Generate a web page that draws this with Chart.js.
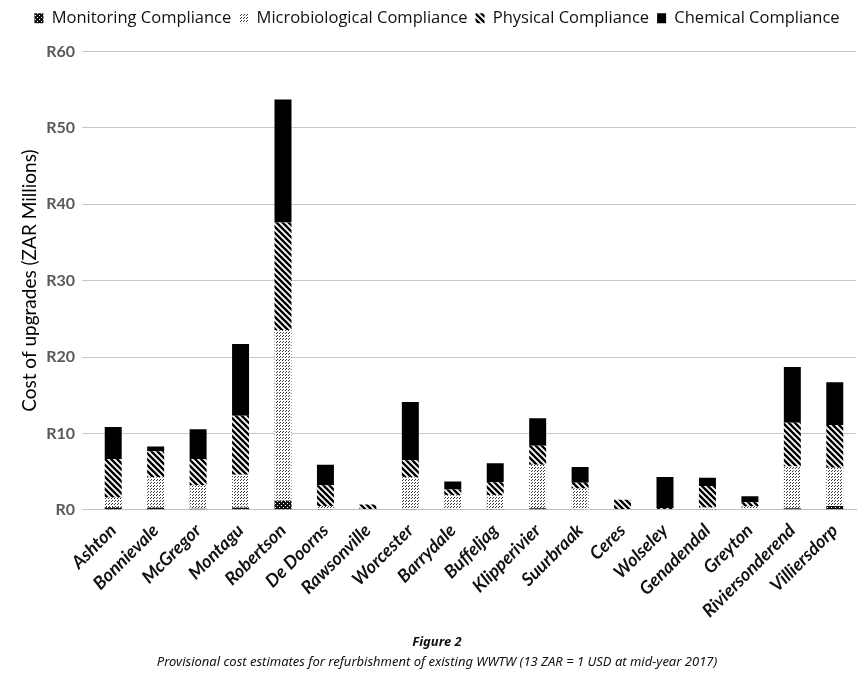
<!DOCTYPE html>
<html>
<head>
<meta charset="utf-8">
<script src="https://cdn.jsdelivr.net/npm/chart.js@4"></script>
<style>
  html, body { margin: 0; padding: 0; background: #fff; }
  #wrap { width: 868px; height: 682px; }
</style>
</head>
<body>
<div id="wrap"><canvas id="costChart"></canvas></div>
<script>
const plants = [
  "Ashton", "Bonnievale", "McGregor", "Montagu", "Robertson", "De Doorns",
  "Rawsonville", "Worcester", "Barrydale", "Buffeljag", "Klipperivier",
  "Suurbraak", "Ceres", "Wolseley", "Genadendal", "Greyton",
  "Riviersonderend", "Villiersdorp",
];

// R millions per compliance category
const monitoring = [0.35, 0.3, 0.15, 0.3, 1.2, 0.1, 0, 0.1, 0, 0.05, 0.2, 0, 0, 0, 0.05, 0, 0.2, 0.5];
const microbiological = [1.25, 3.95, 3.05, 4.3, 22.3, 0.4, 0.1, 4.15, 1.9, 1.85, 5.7, 2.8, 0.1, 0.1, 0.25, 0.45, 5.46, 5.0];
const physical = [5.05, 3.4, 3.45, 7.7, 14.1, 2.7, 0.6, 2.25, 0.75, 1.7, 2.5, 0.75, 1.2, 0.15, 2.8, 0.55, 5.74, 5.6];
const chemical = [4.2, 0.65, 3.9, 9.4, 16.1, 2.7, 0, 7.6, 1.05, 2.5, 3.6, 2.05, 0, 4.05, 1.1, 0.77, 7.3, 5.6];

const yMax = 60;
const yStep = 10;

function makePattern(w, h, draw) {
  const c = document.createElement("canvas");
  c.width = w;
  c.height = h;
  const ctx = c.getContext("2d");
  ctx.fillStyle = "#fff";
  ctx.fillRect(0, 0, w, h);
  draw(ctx);
  return ctx.createPattern(c, "repeat");
}

// dense dark brick-like fill
const monitoringFill = makePattern(4, 4, (ctx) => {
  ctx.fillStyle = "#111";
  ctx.fillRect(0, 0, 4, 4);
  ctx.fillStyle = "#fff";
  ctx.fillRect(1, 1, 1, 1);
  ctx.fillRect(3, 3, 1, 1);
});

// sparse dots
const microFill = makePattern(3, 3, (ctx) => {
  ctx.fillStyle = "#3a3a3a";
  ctx.fillRect(0, 0, 1, 1);
  ctx.fillRect(1, 2, 1, 1);
});

// wide downward diagonal
const physicalFill = makePattern(6, 6, (ctx) => {
  ctx.strokeStyle = "#000";
  ctx.lineWidth = 2.4;
  ctx.beginPath();
  ctx.moveTo(-1, -1);
  ctx.lineTo(7, 7);
  ctx.moveTo(-1, 5);
  ctx.lineTo(1, 7);
  ctx.moveTo(5, -1);
  ctx.lineTo(7, 1);
  ctx.stroke();
});

// leave a gap under the legend
const legendGap = {
  id: "legendGap",
  beforeInit(chart) {
    const fit = chart.legend.fit;
    chart.legend.fit = function () {
      fit.call(this);
      this.height += 15;
    };
  },
};

const costData = {
  labels: plants,
  datasets: [
    { label: "Monitoring Compliance", data: monitoring, backgroundColor: monitoringFill },
    { label: "Microbiological Compliance", data: microbiological, backgroundColor: microFill },
    { label: "Physical Compliance", data: physical, backgroundColor: physicalFill },
    { label: "Chemical Compliance", data: chemical, backgroundColor: "#000" },
  ],
};

const costOptions = {
  responsive: true,
  maintainAspectRatio: false,
  animation: false,
  barPercentage: 0.4,
  categoryPercentage: 1,
  layout: { padding: { left: 18, right: 12, top: 2, bottom: 12 } },
  plugins: {
    legend: {
      position: "top",
      labels: {
        boxWidth: 9,
        boxHeight: 10,
        padding: 8,
        color: "#111",
        font: { family: "'Open Sans', sans-serif", size: 16.5 },
      },
    },
    title: {
      display: true,
      position: "bottom",
      weight: 1500,
      text: "Figure 2",
      color: "#111",
      font: { family: "'Noto Sans', sans-serif", size: 13, weight: "bold", style: "italic" },
      padding: { top: 6, bottom: 0 },
    },
    subtitle: {
      display: true,
      position: "bottom",
      weight: 2000,
      text: "Provisional cost estimates for refurbishment of existing WWTW (13 ZAR = 1 USD at mid-year 2017)",
      color: "#111",
      font: { family: "'Noto Sans', sans-serif", size: 13, style: "italic" },
      padding: { top: 4, bottom: 0 },
    },
    tooltip: { enabled: false },
  },
  scales: {
    x: {
      stacked: true,
      grid: { display: false },
      border: { color: "#bfbfbf" },
      ticks: {
        minRotation: 45,
        maxRotation: 45,
        padding: 2,
        color: "#111",
        font: { family: "Lato, sans-serif", size: 18, weight: "bold", style: "italic" },
      },
      afterFit: (scale) => {
        scale.height = 119;
      },
    },
    y: {
      stacked: true,
      min: 0,
      max: yMax,
      grid: { color: "#c8c8c8", tickLength: 10 },
      border: { display: false },
      ticks: {
        stepSize: yStep,
        color: "#595959",
        padding: 7,
        font: { family: "Lato, sans-serif", size: 16, weight: "bold" },
        callback: (v) => "R" + v,
      },
      title: {
        display: true,
        text: "Cost of upgrades (ZAR Millions)",
        color: "#000",
        font: { family: "Lato, sans-serif", size: 19 },
        padding: 0,
      },
      afterFit: (scale) => {
        scale.width = 74;
      },
    },
  },
};

const costChart = new Chart(document.getElementById("costChart"), {
  type: "bar",
  data: costData,
  options: costOptions,
  plugins: [legendGap],
});
</script>
</body>
</html>
